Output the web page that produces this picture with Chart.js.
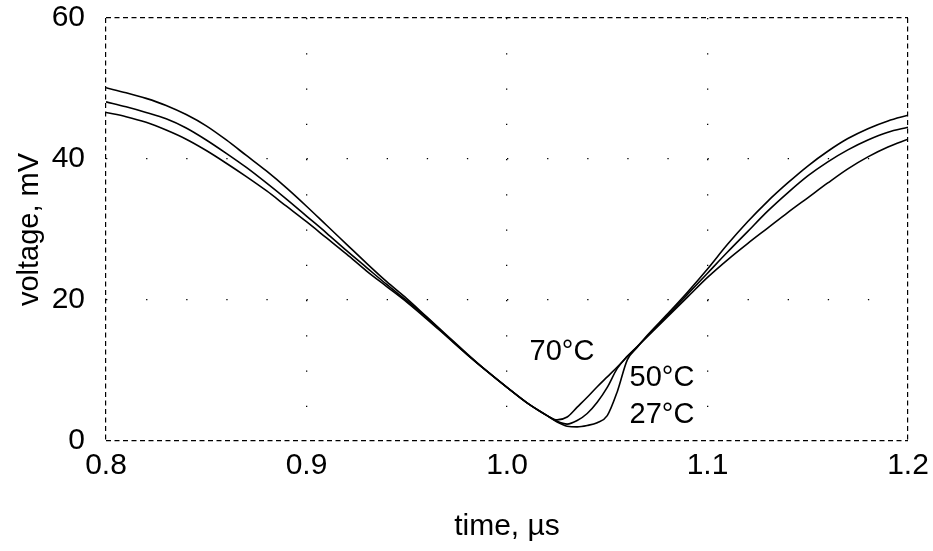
<!DOCTYPE html>
<html>
<head>
<meta charset="utf-8">
<script src="https://cdn.jsdelivr.net/npm/chart.js@4.4.1/dist/chart.umd.min.js"></script>
<style>
  html, body { margin: 0; padding: 0; background: #fff; }
  #wrap { width: 933px; height: 551px; position: relative; }
</style>
</head>
<body>
<div id="wrap"><canvas id="c"></canvas></div>
<script>
// ---- data ----
const times = [
  0.80, 0.81, 0.82, 0.83, 0.84, 0.85, 0.86, 0.87, 0.88, 0.89,
  0.90, 0.91, 0.92, 0.93, 0.94, 0.95, 0.96, 0.97, 0.98, 0.99,
  1.00, 1.01, 1.02, 1.025, 1.03, 1.035, 1.04, 1.045, 1.05, 1.055,
  1.06, 1.065, 1.07, 1.08, 1.09, 1.10, 1.11, 1.12, 1.13, 1.14,
  1.15, 1.16, 1.17, 1.18, 1.19, 1.20
];
const v27 = [
  50.1, 49.4, 48.6, 47.6, 46.3, 44.7, 42.7, 40.5, 38.3, 35.9,
  33.3, 30.6, 27.9, 25.2, 22.6, 20.2, 17.6, 15.0, 12.4, 9.9,
  7.6, 5.4, 3.6, 2.7, 2.1, 2.0, 2.2, 2.6, 3.6, 7.0,
  11.5, 13.3, 15.0, 18.0, 21.1, 24.4, 27.9, 31.1, 34.0, 36.6,
  39.0, 41.1, 42.9, 44.3, 45.4, 46.2
];
const v50 = [
  48.1, 47.4, 46.6, 45.7, 44.4, 42.7, 40.8, 38.8, 36.6, 34.3,
  31.9, 29.5, 27.0, 24.6, 22.2, 19.9, 17.5, 14.9, 12.3, 9.9,
  7.6, 5.4, 3.6, 2.8, 2.4, 2.9, 3.9, 5.5, 7.6, 10.3,
  12.0, 13.4, 14.9, 17.8, 20.8, 23.8, 26.8, 29.7, 32.6, 35.2,
  37.6, 39.6, 41.3, 42.7, 43.8, 44.5
];
const v70 = [
  46.6, 46.0, 45.2, 44.1, 42.8, 41.2, 39.4, 37.5, 35.5, 33.3,
  31.1, 28.8, 26.5, 24.1, 21.9, 19.7, 17.3, 14.8, 12.3, 9.9,
  7.6, 5.4, 3.6, 3.0, 3.4, 4.8, 6.2, 7.7, 9.1, 10.5,
  12.0, 13.4, 14.8, 17.6, 20.4, 23.2, 25.7, 28.0, 30.2, 32.4,
  34.5, 36.6, 38.6, 40.3, 41.7, 42.8
];
const seriesNames = ['27°C', '50°C', '70°C'];
const xTickLabels = ['0.8', '0.9', '1.0', '1.1', '1.2'];
const yTickLabels = ['0', '20', '40', '60'];
const labelTexts = ['70°C', '50°C', '27°C'];
const labelTimes = [1.0274, 1.0773, 1.0773];
const labelValues = [12.6, 8.9, 3.7];

// ---- chart ----
const FONT = "'Liberation Sans', Arial, Helvetica, sans-serif";
function pts(vals) { return times.map((t, i) => ({ x: t, y: vals[i] })); }
const seriesVals = [v27, v50, v70];

const datasets = seriesVals.map((vals, i) => ({
  label: seriesNames[i],
  data: pts(vals),
  borderColor: '#000',
  borderWidth: 1.6,
  pointRadius: 0,
  fill: false,
  cubicInterpolationMode: 'monotone',
  xAxisID: 'x',
  yAxisID: 'y'
}));

const curveLabels = {
  id: 'curveLabels',
  afterDatasetsDraw(chart) {
    const ctx = chart.ctx, xs = chart.scales.x, ys = chart.scales.y;
    ctx.save();
    ctx.fillStyle = '#000';
    ctx.font = '29px ' + FONT;
    ctx.textAlign = 'center';
    ctx.textBaseline = 'middle';
    labelTexts.forEach((t, i) => {
      ctx.fillText(t, xs.getPixelForValue(labelTimes[i]), ys.getPixelForValue(labelValues[i]));
    });
    ctx.restore();
  }
};

const dotted = (n) => (c) => (c.index === 0 || c.index === n - 1) ? 'rgba(0,0,0,0)' : '#000';

new Chart(document.getElementById('c'), {
  type: 'line',
  data: { datasets },
  plugins: [curveLabels],
  options: {
    responsive: true,
    maintainAspectRatio: false,
    animation: false,
    layout: { padding: { left: 0, top: 18, right: 25, bottom: 0 } },
    plugins: { legend: { display: false }, tooltip: { enabled: false } },
    scales: {
      x: {
        type: 'linear', position: 'bottom',
        min: 0.8, max: 1.2,
        afterFit: (s) => { s.height = 110; s.paddingLeft = 0; s.paddingRight = 0; },
        ticks: {
          stepSize: 0.1, color: '#000', padding: 7,
          font: { family: FONT, size: 30 },
          callback: (v, i) => xTickLabels[i],
          maxRotation: 0
        },
        grid: { color: dotted(5), lineWidth: 1.3, drawTicks: false },
        border: { display: false, dash: [1.3, 35.25 - 1.3] },
        title: {
          display: true, text: 'time, µs', color: '#000',
          font: { family: FONT, size: 30 },
          padding: { top: 0, bottom: 6 }
        }
      },
      y: {
        type: 'linear', position: 'left',
        min: 0, max: 60,
        afterFit: (s) => { s.width = 106; s.paddingTop = 0; s.paddingBottom = 0; },
        ticks: {
          stepSize: 20, color: '#000', padding: 21,
          font: { family: FONT, size: 30 },
          callback: (v, i) => yTickLabels[i]
        },
        grid: { color: dotted(4), lineWidth: 1.3, drawTicks: false },
        border: { display: false, dash: [1.3, 40.1 - 1.3] },
        title: {
          display: true, text: 'voltage, mV', color: '#000',
          font: { family: FONT, size: 29 },
          padding: { top: 13, bottom: 0 }
        }
      },
      xFrame: {
        type: 'linear', position: 'top',
        min: 0.8, max: 1.2,
        afterFit: (s) => { s.height = 0; s.paddingLeft = 0; s.paddingRight = 0; },
        ticks: { display: false, stepSize: 0.4 },
        grid: { color: '#000', lineWidth: 1.2, drawTicks: false },
        border: { display: false, dash: [5, 3.5] }
      },
      yFrame: {
        type: 'linear', position: 'right',
        min: 0, max: 60,
        afterFit: (s) => { s.width = 0; s.paddingTop = 0; s.paddingBottom = 0; },
        ticks: { display: false, stepSize: 60 },
        grid: { color: '#000', lineWidth: 1.2, drawTicks: false },
        border: { display: false, dash: [5, 3.5] }
      }
    }
  }
});
</script>
</body>
</html>
